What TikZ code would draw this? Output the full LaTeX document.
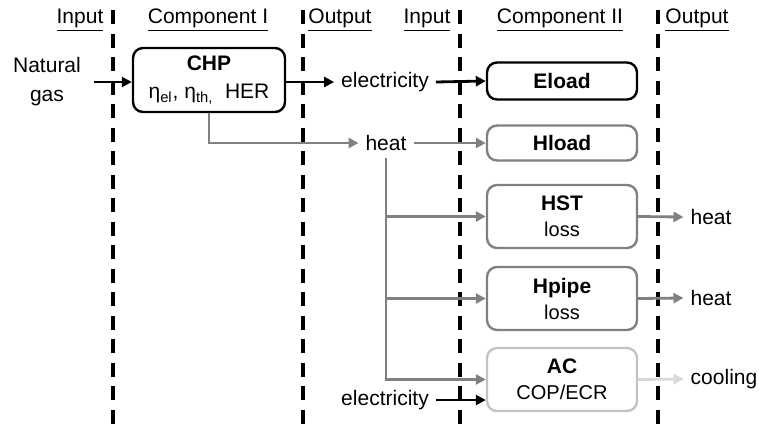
\documentclass[tikz,border=0pt]{standalone}
\usepackage{fontspec}
\setmainfont{Liberation Sans}
\usetikzlibrary{arrows.meta}
\definecolor{heatgray}{RGB}{128,128,128}
\definecolor{acgray}{RGB}{195,195,195}
\definecolor{coolgray}{RGB}{217,217,217}
\begin{document}
\begin{tikzpicture}[x=0.5pt, y=-0.5pt,
    font=\fontsize{10.5}{13}\selectfont,
    comp/.style={draw, line width=1.2pt, rounded corners=5pt, minimum width=75pt, align=center, inner sep=2pt},
    flow/.style={-{Triangle[length=5pt,width=5pt]}, line width=1.4pt},
    sep/.style={line width=2pt, dash pattern=on 7pt off 4.75pt},
    hdr/.style={inner sep=1pt}]
    \useasboundingbox (0,0) rectangle (759,430);

    % Trennlinien
    \foreach \x in {113,303,460,658}
        \draw[sep] (\x,10) -- (\x,426);

    % Kopfzeile
    \node[hdr] (in1) at (80,20) {\underline{Input}};
    \node[hdr] (comp1) at (208,20) {\underline{Component I}};
    \node[hdr] (out1) at (340,20) {\underline{Output}};
    \node[hdr] (in2) at (427,20) {\underline{Input}};
    \node[hdr] (comp2) at (560,20) {\underline{Component II}};
    \node[hdr] (out2) at (697,20) {\underline{Output}};

    % Komponenten
    \node[comp, minimum width=76pt, minimum height=32pt] (chp) at (209,80) {\textbf{CHP}\\[1pt]η\textsubscript{el}, η\textsubscript{th,}\ \ HER};
    \node[comp, minimum height=18.5pt] (eload) at (562,81) {\textbf{Eload}};
    \node[comp, heatgray, minimum height=17.5pt] (hload) at (562,143) {\textcolor{black}{\textbf{Hload}}};
    \node[comp, heatgray, minimum height=31.5pt] (hst) at (562,216.5) {\textcolor{black}{\textbf{HST}}\\\textcolor{black}{\fontsize{10}{12}\selectfont loss}};
    \node[comp, heatgray, minimum height=31.5pt] (hpipe) at (562,298.5) {\textcolor{black}{\textbf{Hpipe}}\\\textcolor{black}{\fontsize{10}{12}\selectfont loss}};
    \node[comp, acgray, minimum height=31.5pt] (ac) at (562,379.5) {\textcolor{black}{\textbf{AC}}\\\textcolor{black}{\fontsize{10}{12}\selectfont COP/ECR}};

    % Energietraeger
    \node[align=center, font=\fontsize{10.5}{14.5}\selectfont] (ng) at (47,82) {Natural\\gas};
    \node (elec) at (385,82) {electricity};
    \node (heat) at (386,143) {heat};
    \node (elec2) at (385,400) {electricity};
    \node (heatout1) at (711,217) {heat};
    \node (heatout2) at (711,298) {heat};
    \node (cool) at (724,379) {cooling};

    % Pfeile
    \draw[flow] ([xshift=3pt]ng.east) -- (chp.west |- ng);
    \draw[flow] (chp.east |- elec) -- (elec.west);
    \draw[flow] (elec.east) -- (eload.west);
    \draw[flow, heatgray] (chp.south) |- (heat.west);
    \draw[flow, heatgray] (heat.east) -- (hload.west);
    \draw[flow, heatgray] (heat.south) |- (hst.west);
    \draw[flow, heatgray] (heat.south) |- (hpipe.west);
    \draw[flow, heatgray] (heat.south) |- (ac.west);
    \draw[flow] (elec2.east) -- (ac.west |- elec2);
    \draw[flow, heatgray] (hst.east) -- (heatout1.west);
    \draw[flow, heatgray] (hpipe.east) -- (heatout2.west);
    \draw[flow, coolgray] (ac.east) -- (cool.west);
\end{tikzpicture}
\end{document}
